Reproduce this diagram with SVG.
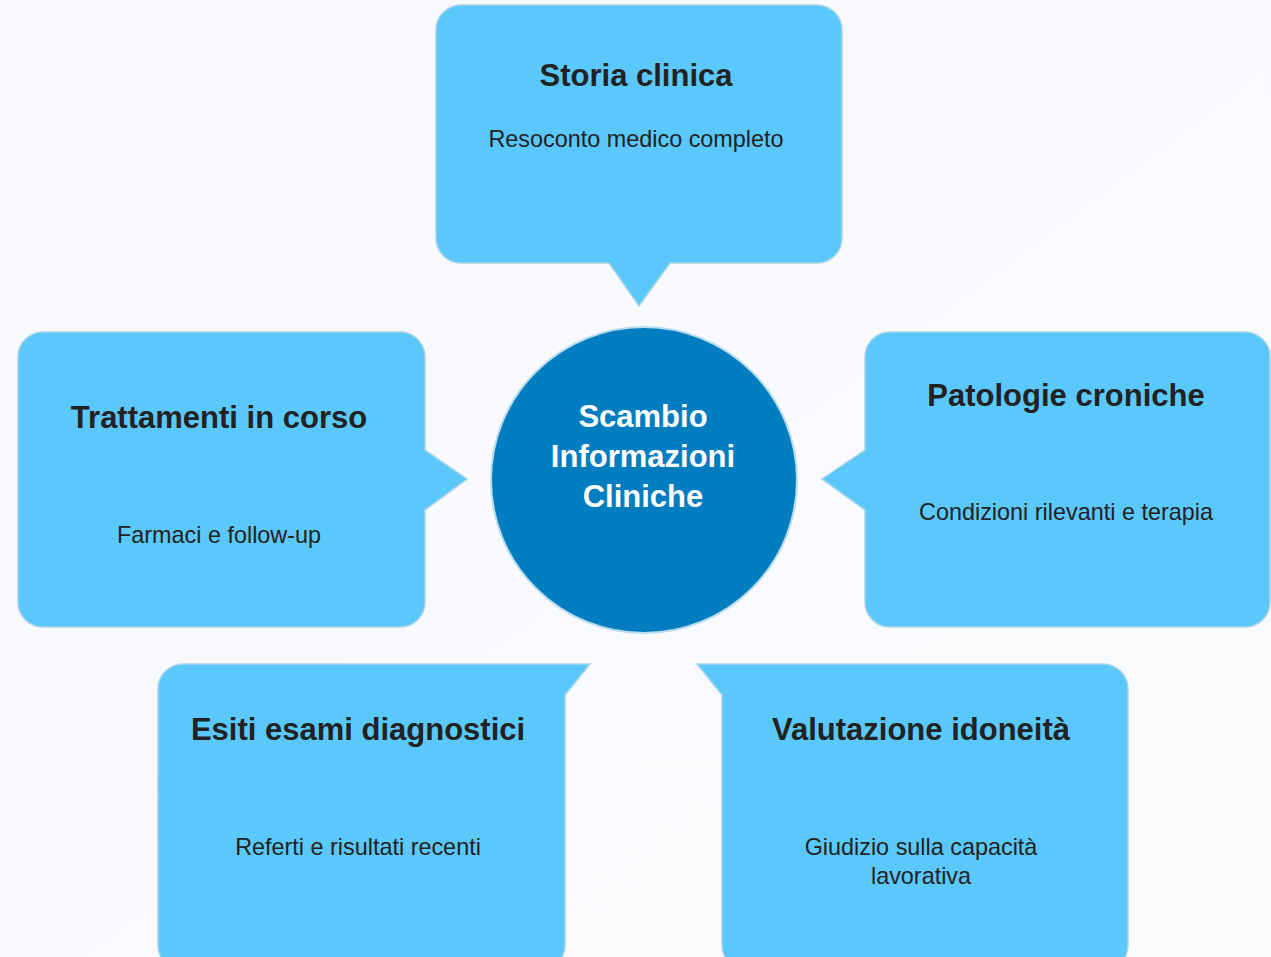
<svg xmlns="http://www.w3.org/2000/svg" width="1271" height="957" viewBox="0 0 1271 957">
  <defs>
    <linearGradient id="bg" x1="0" y1="0" x2="1" y2="1">
      <stop offset="0" stop-color="#f7f9fc"/>
      <stop offset="1" stop-color="#f9fbfd"/>
    </linearGradient>
  </defs>
  <style>
    .box { fill: #5ac8fa; stroke: #a9d3e8; stroke-width: 1.5; }
    .hub { fill: #027dbf; stroke: #b9dcee; stroke-width: 2; }
    .title { font-family: "Liberation Sans", Arial, sans-serif; font-weight: bold; font-size: 31px; fill: #222222; text-anchor: middle; }
    .sub { font-family: "Liberation Sans", Arial, sans-serif; font-size: 23.4px; fill: #222222; text-anchor: middle; }
    .hubtext { font-family: "Liberation Sans", Arial, sans-serif; font-weight: bold; font-size: 31px; fill: #ffffff; text-anchor: middle; }
  </style>
  <rect width="1271" height="957" fill="url(#bg)"/>
  <g id="connectors"></g>
  <g id="node-storia">
    <path class="box" d="M461,5 H817 A25,25 0 0 1 842,30 V238 A25,25 0 0 1 817,263 H670 L639,306 L609,263 H461 A25,25 0 0 1 436,238 V30 A25,25 0 0 1 461,5 Z"/>
    <text class="title" x="636" y="86">Storia clinica</text>
    <text class="sub" x="636" y="147">Resoconto medico completo</text>
  </g>
  <g id="node-trattamenti">
    <path class="box" d="M43,332 H400 A25,25 0 0 1 425,357 V450 L467,479 L425,510 V602 A25,25 0 0 1 400,627 H43 A25,25 0 0 1 18,602 V357 A25,25 0 0 1 43,332 Z"/>
    <text class="title" x="219" y="428">Trattamenti in corso</text>
    <text class="sub" x="219" y="543">Farmaci e follow-up</text>
  </g>
  <g id="node-patologie">
    <path class="box" d="M890,332 H1245 A25,25 0 0 1 1270,357 V602 A25,25 0 0 1 1245,627 H890 A25,25 0 0 1 865,602 V510 L822,479 L865,450 V357 A25,25 0 0 1 890,332 Z"/>
    <text class="title" x="1066" y="406">Patologie croniche</text>
    <text class="sub" x="1066" y="520">Condizioni rilevanti e terapia</text>
  </g>
  <g id="node-esiti">
    <path class="box" d="M183,664 H590 L565,695 V945 A25,25 0 0 1 540,970 H183 A25,25 0 0 1 158,945 V689 A25,25 0 0 1 183,664 Z"/>
    <text class="title" x="358" y="740">Esiti esami diagnostici</text>
    <text class="sub" x="358" y="855">Referti e risultati recenti</text>
  </g>
  <g id="node-valutazione">
    <path class="box" d="M697,664 H1103 A25,25 0 0 1 1128,689 V945 A25,25 0 0 1 1103,970 H747 A25,25 0 0 1 722,945 V695 L697,664 Z"/>
    <text class="title" x="921" y="740">Valutazione idoneità</text>
    <text class="sub" x="921" y="855">Giudizio sulla capacità</text>
    <text class="sub" x="921" y="884">lavorativa</text>
  </g>
  <g id="node-hub">
    <circle class="hub" cx="644" cy="480" r="153"/>
    <text class="hubtext" x="643" y="427">Scambio</text>
    <text class="hubtext" x="643" y="467">Informazioni</text>
    <text class="hubtext" x="643" y="507">Cliniche</text>
  </g>
</svg>
